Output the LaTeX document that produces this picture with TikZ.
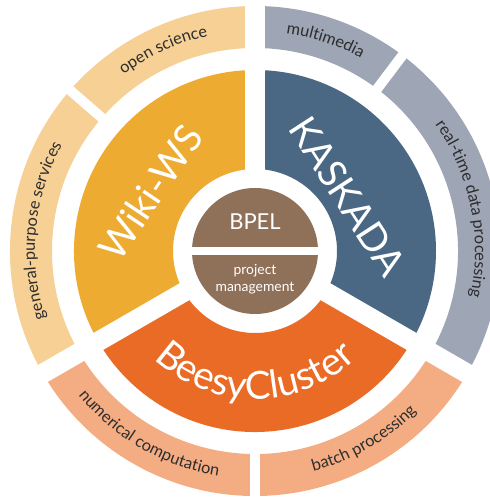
\documentclass[tikz,border=0pt]{standalone}
\usepackage{fontspec}
\setmainfont{Lato}
\usetikzlibrary{decorations.text}
\definecolor{whWiki}{RGB}{238,171,49}
\definecolor{whWikiLight}{RGB}{246,208,149}
\definecolor{whKaskada}{RGB}{74,104,131}
\definecolor{whKaskadaLight}{RGB}{158,165,181}
\definecolor{whBeesy}{RGB}{234,107,37}
\definecolor{whBeesyLight}{RGB}{244,173,130}
\definecolor{whBrown}{RGB}{143,112,88}
\definecolor{whText}{RGB}{45,45,45}
\newcommand{\ringfont}{\fontsize{9.3}{11}\selectfont}
\newcommand{\bigfont}{\fontsize{22}{26}\selectfont}
% colour, start angle, end angle, inner radius, outer radius
\newcommand{\ringpart}[5]{%
  \fill[#1] (#2:#4) arc[start angle=#2, end angle=#3, radius=#4]
    -- (#3:#5) arc[start angle=#3, end angle=#2, radius=#5] -- cycle;}
% start angle, end angle, radius, text
\newcommand{\ringlabel}[4]{%
  \path[decorate, decoration={text along path, text align=center,
    text color=whText, text={|\ringfont|#4}}]
    (#1:#3) arc[start angle=#1, end angle=#2, radius=#3];}

\begin{document}
\begin{tikzpicture}[
    gapmajor/.style={white, line width=0.39cm},
    gapminor/.style={white, line width=0.2cm},
    bigtext/.style={text=white, font=\bigfont, inner sep=0pt}]
  \useasboundingbox (-5.1,-4.92) rectangle (4.68,5.02);

  % inner ring
  \ringpart{whWiki}{90}{210}{1.64}{3.62}
  \ringpart{whKaskada}{-30}{90}{1.64}{3.62}
  \ringpart{whBeesy}{210}{330}{1.64}{3.62}

  % outer ring
  \ringpart{whWikiLight}{90}{210}{4.06}{4.9}
  \ringpart{whKaskadaLight}{-30}{90}{4.06}{4.9}
  \ringpart{whBeesyLight}{210}{330}{4.06}{4.9}

  % gaps
  \foreach \a in {90,210,330}
    \draw[gapmajor] (0,0) -- (\a:5.3);
  \foreach \a in {139,53,270}
    \draw[gapminor] (\a:3.9) -- (\a:5.3);

  % centre
  \fill[whBrown] (0,0) circle (1.26);
  \fill[white] (-1.3,-0.08) rectangle (1.3,0.08);
  \node[text=white, font=\fontsize{12.5}{15}\selectfont] (bpel) at (0,0.58) {BPEL};
  \node[text=white, font=\fontsize{7.9}{9.6}\selectfont, align=center] (pm) at (0,-0.56)
    {project\\management};

  % inner labels
  \node[bigtext, rotate=56] (wikiws) at (150.7:2.4) {Wiki-WS};
  \node[bigtext, rotate=-57] (kaskada) at (30.6:2.15) {KASKADA};
  \path[decorate, decoration={text along path, text align=center,
    text color=white, text={|\bigfont|BeesyCluster}}]
    (210:2.96) arc[start angle=210, end angle=330, radius=2.96];

  % outer labels
  \ringlabel{139}{90}{4.40}{open science}
  \ringlabel{210}{139}{4.40}{general-purpose services}
  \ringlabel{90}{53}{4.40}{multimedia}
  \ringlabel{53}{-30}{4.40}{real-time data processing}
  \ringlabel{210}{270}{4.56}{numerical computation}
  \ringlabel{270}{330}{4.56}{batch processing}
\end{tikzpicture}
\end{document}
